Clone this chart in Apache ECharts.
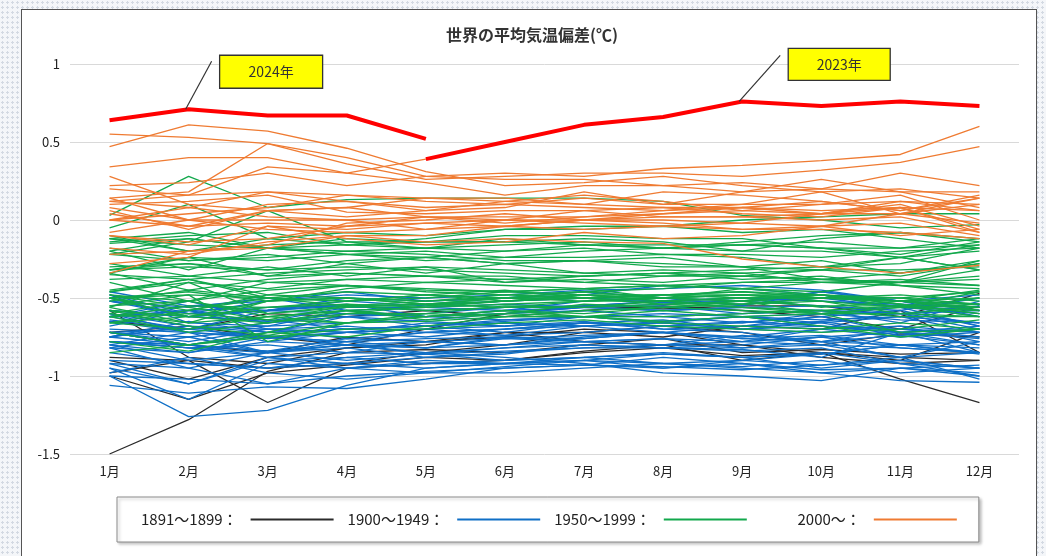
<!DOCTYPE html>
<html>
<head>
<meta charset="utf-8">
<script src="https://cdn.jsdelivr.net/npm/echarts@6/dist/echarts.min.js"></script>
<style>
html,body{margin:0;padding:0;width:1046px;height:556px;overflow:hidden;}
body{background:#f4f6f9 radial-gradient(#d3d9e2 1px, transparent 1.2px) 0 0/5px 5px;}
#frame{position:absolute;left:21px;top:9px;width:1016px;height:560px;background:#fff;border:1.5px solid #555;box-sizing:border-box;}
#chart{position:absolute;left:0;top:0;width:1046px;height:556px;}
</style>
</head>
<body>
<div id="frame"></div>
<div id="chart"></div>
<script>
const months = ['1月','2月','3月','4月','5月','6月','7月','8月','9月','10月','11月','12月'];
const titleText = '世界の平均気温偏差(℃)';
const groupNames = ['1891～1899：','1900～1949：','1950～1999：','2000～：'];
const groupColors = ['#2b2b2b','#0f6fc6','#12a84c','#ef7b32'];
const redColor = '#ff0000';

// 1891-1899
const years1891 = [
[-1.00,-1.15,-0.98,-0.93,-0.88,-0.90,-0.85,-0.82,-0.87,-0.85,-0.90,-0.72],
[-0.98,-0.90,-1.17,-0.95,-0.92,-0.90,-0.84,-0.80,-0.80,-0.88,-0.92,-0.90],
[-1.50,-1.28,-0.97,-0.85,-0.83,-0.85,-0.80,-0.76,-0.85,-0.83,-0.86,-0.85],
[-0.72,-0.80,-0.85,-0.75,-0.78,-0.72,-0.78,-0.80,-0.90,-0.85,-1.02,-1.17],
[-0.90,-1.02,-0.88,-0.82,-0.80,-0.72,-0.72,-0.68,-0.72,-0.80,-0.73,-0.75],
[-0.72,-0.68,-0.75,-0.80,-0.70,-0.60,-0.55,-0.57,-0.55,-0.55,-0.62,-0.47],
[-0.65,-0.70,-0.60,-0.62,-0.58,-0.62,-0.58,-0.55,-0.58,-0.62,-0.70,-0.55],
[-0.58,-0.88,-0.92,-0.82,-0.78,-0.75,-0.70,-0.72,-0.80,-0.85,-0.88,-0.90],
[-0.88,-0.90,-0.95,-0.92,-0.85,-0.80,-0.72,-0.75,-0.68,-0.70,-0.58,-0.85]
];

// 1900-1949
const years1900 = [
[-0.75,-0.68,-0.72,-0.70,-0.68,-0.65,-0.62,-0.65,-0.62,-0.68,-0.72,-0.70],
[-0.72,-0.78,-0.70,-0.72,-0.75,-0.70,-0.66,-0.70,-0.72,-0.78,-0.80,-0.85],
[-0.80,-0.72,-0.85,-0.82,-0.88,-0.86,-0.80,-0.82,-0.84,-0.82,-0.92,-0.95],
[-0.78,-0.82,-0.88,-0.95,-0.92,-0.90,-0.88,-0.92,-0.95,-0.98,-0.95,-1.00],
[-1.00,-1.02,-1.05,-1.00,-0.97,-0.95,-0.93,-0.94,-0.96,-0.93,-0.90,-0.95],
[-0.95,-1.05,-0.90,-0.88,-0.85,-0.82,-0.80,-0.82,-0.83,-0.88,-0.72,-0.80],
[-0.80,-0.90,-0.85,-0.78,-0.82,-0.76,-0.78,-0.76,-0.82,-0.78,-0.88,-0.78],
[-0.95,-1.15,-0.92,-0.95,-0.98,-0.94,-0.90,-0.92,-0.94,-0.90,-0.98,-0.95],
[-0.92,-0.95,-1.05,-0.95,-0.90,-0.92,-0.90,-0.95,-0.92,-0.96,-0.95,-0.98],
[-0.98,-0.88,-0.98,-1.02,-0.98,-0.98,-0.95,-0.92,-0.90,-0.93,-0.88,-1.02],
[-0.90,-0.92,-0.95,-0.92,-0.95,-0.92,-0.93,-0.88,-0.92,-0.98,-1.03,-1.04],
[-1.06,-1.11,-1.07,-1.08,-1.02,-0.95,-0.93,-0.95,-0.90,-0.86,-0.80,-0.82],
[-0.82,-0.75,-0.85,-0.80,-0.85,-0.88,-0.92,-0.98,-1.00,-1.03,-0.95,-0.93],
[-0.85,-0.92,-0.95,-0.88,-0.92,-0.92,-0.88,-0.86,-0.88,-0.86,-0.80,-0.78],
[-0.78,-0.82,-0.80,-0.85,-0.78,-0.80,-0.75,-0.72,-0.75,-0.70,-0.75,-0.72],
[-0.75,-0.65,-0.72,-0.62,-0.65,-0.68,-0.62,-0.66,-0.70,-0.72,-0.68,-0.78],
[-0.72,-0.80,-0.88,-0.85,-0.86,-0.90,-0.88,-0.85,-0.88,-0.85,-0.92,-1.00],
[-1.00,-1.26,-1.22,-1.06,-0.95,-0.92,-0.90,-0.86,-0.88,-0.95,-0.90,-0.95],
[-0.92,-1.05,-0.88,-0.92,-0.88,-0.85,-0.82,-0.82,-0.80,-0.75,-0.82,-0.85],
[-0.78,-0.82,-0.85,-0.80,-0.86,-0.82,-0.78,-0.80,-0.82,-0.80,-0.88,-0.85],
[-0.75,-0.80,-0.74,-0.80,-0.82,-0.80,-0.78,-0.76,-0.78,-0.80,-0.82,-0.85],
[-0.65,-0.72,-0.76,-0.72,-0.70,-0.68,-0.65,-0.70,-0.68,-0.65,-0.72,-0.70],
[-0.80,-0.85,-0.78,-0.80,-0.82,-0.75,-0.78,-0.80,-0.74,-0.78,-0.70,-0.75],
[-0.78,-0.80,-0.84,-0.80,-0.78,-0.76,-0.74,-0.72,-0.78,-0.70,-0.68,-0.72],
[-0.70,-0.72,-0.75,-0.78,-0.76,-0.75,-0.76,-0.72,-0.76,-0.78,-0.74,-0.80],
[-0.82,-0.85,-0.75,-0.78,-0.72,-0.74,-0.72,-0.68,-0.70,-0.65,-0.60,-0.55],
[-0.58,-0.62,-0.64,-0.70,-0.68,-0.72,-0.66,-0.68,-0.65,-0.68,-0.72,-0.76],
[-0.72,-0.70,-0.75,-0.72,-0.70,-0.74,-0.68,-0.72,-0.68,-0.62,-0.58,-0.68],
[-0.60,-0.68,-0.70,-0.68,-0.72,-0.70,-0.68,-0.66,-0.70,-0.68,-0.70,-0.72],
[-0.82,-0.95,-0.85,-0.90,-0.86,-0.84,-0.82,-0.80,-0.78,-0.75,-0.72,-0.85],
[-0.72,-0.75,-0.70,-0.72,-0.70,-0.66,-0.68,-0.65,-0.62,-0.60,-0.55,-0.62],
[-0.62,-0.70,-0.68,-0.66,-0.64,-0.60,-0.58,-0.62,-0.66,-0.60,-0.64,-0.66],
[-0.60,-0.72,-0.66,-0.62,-0.68,-0.66,-0.68,-0.66,-0.62,-0.66,-0.74,-0.70],
[-0.78,-0.80,-0.84,-0.76,-0.78,-0.80,-0.76,-0.72,-0.76,-0.74,-0.80,-0.86],
[-0.75,-0.68,-0.78,-0.72,-0.66,-0.68,-0.66,-0.64,-0.70,-0.66,-0.62,-0.66],
[-0.68,-0.58,-0.70,-0.76,-0.72,-0.70,-0.66,-0.68,-0.66,-0.62,-0.72,-0.68],
[-0.72,-0.80,-0.72,-0.70,-0.68,-0.64,-0.62,-0.62,-0.60,-0.58,-0.60,-0.58],
[-0.62,-0.58,-0.66,-0.62,-0.60,-0.56,-0.55,-0.52,-0.50,-0.52,-0.55,-0.58],
[-0.52,-0.56,-0.50,-0.58,-0.62,-0.60,-0.56,-0.54,-0.52,-0.50,-0.52,-0.62],
[-0.58,-0.62,-0.65,-0.60,-0.62,-0.58,-0.56,-0.55,-0.60,-0.58,-0.66,-0.52],
[-0.62,-0.58,-0.56,-0.55,-0.54,-0.52,-0.50,-0.53,-0.52,-0.55,-0.58,-0.50],
[-0.62,-0.55,-0.58,-0.50,-0.52,-0.50,-0.46,-0.50,-0.55,-0.46,-0.52,-0.54],
[-0.50,-0.62,-0.58,-0.52,-0.55,-0.52,-0.50,-0.52,-0.50,-0.52,-0.54,-0.56],
[-0.62,-0.52,-0.65,-0.56,-0.56,-0.58,-0.52,-0.50,-0.52,-0.46,-0.52,-0.48],
[-0.46,-0.55,-0.52,-0.48,-0.50,-0.48,-0.45,-0.44,-0.42,-0.45,-0.52,-0.58],
[-0.48,-0.60,-0.52,-0.46,-0.52,-0.50,-0.48,-0.42,-0.44,-0.48,-0.56,-0.68],
[-0.52,-0.60,-0.58,-0.54,-0.62,-0.60,-0.56,-0.58,-0.56,-0.58,-0.60,-0.70],
[-0.64,-0.70,-0.58,-0.55,-0.58,-0.56,-0.55,-0.52,-0.54,-0.50,-0.56,-0.60],
[-0.48,-0.66,-0.68,-0.58,-0.56,-0.54,-0.56,-0.58,-0.56,-0.55,-0.60,-0.66],
[-0.52,-0.62,-0.58,-0.60,-0.62,-0.64,-0.62,-0.60,-0.62,-0.64,-0.62,-0.72]
];

// 1950-1999
const years1950 = [
[-0.85,-0.80,-0.72,-0.75,-0.68,-0.62,-0.62,-0.65,-0.62,-0.68,-0.75,-0.70],
[-0.78,-0.84,-0.72,-0.60,-0.55,-0.52,-0.50,-0.48,-0.46,-0.50,-0.52,-0.45],
[-0.55,-0.52,-0.60,-0.55,-0.54,-0.52,-0.50,-0.50,-0.48,-0.52,-0.60,-0.56],
[-0.48,-0.52,-0.45,-0.42,-0.45,-0.46,-0.48,-0.48,-0.46,-0.48,-0.52,-0.50],
[-0.60,-0.52,-0.62,-0.58,-0.62,-0.60,-0.62,-0.62,-0.60,-0.58,-0.55,-0.62],
[-0.58,-0.68,-0.74,-0.66,-0.65,-0.62,-0.62,-0.58,-0.62,-0.60,-0.72,-0.70],
[-0.72,-0.80,-0.75,-0.70,-0.70,-0.66,-0.64,-0.68,-0.70,-0.72,-0.70,-0.64],
[-0.62,-0.60,-0.64,-0.55,-0.52,-0.48,-0.50,-0.48,-0.50,-0.50,-0.50,-0.46],
[-0.35,-0.38,-0.50,-0.52,-0.48,-0.52,-0.48,-0.52,-0.54,-0.50,-0.48,-0.52],
[-0.50,-0.58,-0.48,-0.50,-0.52,-0.50,-0.48,-0.50,-0.52,-0.55,-0.55,-0.56],
[-0.55,-0.48,-0.78,-0.66,-0.60,-0.55,-0.56,-0.52,-0.50,-0.48,-0.56,-0.50],
[-0.52,-0.45,-0.50,-0.46,-0.48,-0.45,-0.50,-0.48,-0.48,-0.50,-0.52,-0.56],
[-0.50,-0.46,-0.52,-0.50,-0.54,-0.50,-0.52,-0.50,-0.48,-0.48,-0.50,-0.54],
[-0.56,-0.40,-0.60,-0.56,-0.54,-0.50,-0.46,-0.44,-0.40,-0.40,-0.42,-0.48],
[-0.48,-0.56,-0.64,-0.66,-0.62,-0.58,-0.62,-0.66,-0.68,-0.70,-0.66,-0.70],
[-0.60,-0.66,-0.62,-0.66,-0.62,-0.58,-0.60,-0.56,-0.54,-0.52,-0.56,-0.54],
[-0.62,-0.55,-0.56,-0.54,-0.56,-0.52,-0.48,-0.52,-0.50,-0.56,-0.52,-0.58],
[-0.56,-0.66,-0.52,-0.50,-0.54,-0.56,-0.52,-0.50,-0.52,-0.48,-0.52,-0.54],
[-0.66,-0.58,-0.50,-0.55,-0.58,-0.56,-0.56,-0.54,-0.52,-0.48,-0.54,-0.60],
[-0.58,-0.62,-0.52,-0.44,-0.40,-0.42,-0.44,-0.42,-0.40,-0.38,-0.40,-0.36],
[-0.45,-0.38,-0.48,-0.42,-0.46,-0.48,-0.46,-0.50,-0.48,-0.50,-0.52,-0.56],
[-0.50,-0.62,-0.66,-0.60,-0.60,-0.62,-0.58,-0.56,-0.58,-0.60,-0.56,-0.58],
[-0.66,-0.62,-0.56,-0.52,-0.50,-0.46,-0.44,-0.42,-0.44,-0.40,-0.40,-0.32],
[-0.32,-0.28,-0.36,-0.34,-0.36,-0.36,-0.40,-0.42,-0.44,-0.48,-0.54,-0.60],
[-0.66,-0.70,-0.62,-0.58,-0.56,-0.54,-0.52,-0.52,-0.56,-0.60,-0.60,-0.62],
[-0.50,-0.48,-0.50,-0.52,-0.48,-0.50,-0.50,-0.54,-0.56,-0.58,-0.62,-0.62],
[-0.62,-0.72,-0.66,-0.58,-0.64,-0.60,-0.54,-0.56,-0.52,-0.60,-0.56,-0.46],
[-0.46,-0.38,-0.34,-0.32,-0.30,-0.32,-0.34,-0.36,-0.34,-0.40,-0.38,-0.42],
[-0.38,-0.36,-0.40,-0.42,-0.44,-0.46,-0.44,-0.50,-0.44,-0.46,-0.40,-0.42],
[-0.40,-0.52,-0.40,-0.38,-0.40,-0.38,-0.36,-0.34,-0.32,-0.30,-0.28,-0.18],
[-0.30,-0.28,-0.32,-0.26,-0.24,-0.28,-0.26,-0.30,-0.30,-0.32,-0.24,-0.32],
[-0.18,-0.26,-0.22,-0.28,-0.34,-0.28,-0.26,-0.24,-0.30,-0.38,-0.34,-0.28],
[-0.46,-0.40,-0.44,-0.38,-0.36,-0.40,-0.38,-0.40,-0.36,-0.38,-0.40,-0.26],
[-0.15,-0.12,-0.18,-0.22,-0.20,-0.24,-0.24,-0.22,-0.24,-0.30,-0.24,-0.32],
[-0.28,-0.36,-0.30,-0.36,-0.30,-0.40,-0.36,-0.34,-0.38,-0.36,-0.42,-0.44],
[-0.34,-0.45,-0.38,-0.34,-0.36,-0.38,-0.40,-0.36,-0.36,-0.38,-0.40,-0.38],
[-0.32,-0.30,-0.32,-0.30,-0.32,-0.34,-0.36,-0.34,-0.36,-0.32,-0.32,-0.30],
[-0.34,-0.24,-0.36,-0.28,-0.24,-0.20,-0.16,-0.18,-0.16,-0.18,-0.22,-0.14],
[-0.12,-0.20,-0.12,-0.16,-0.14,-0.14,-0.16,-0.16,-0.16,-0.18,-0.24,-0.20],
[-0.32,-0.24,-0.26,-0.22,-0.26,-0.24,-0.20,-0.18,-0.20,-0.20,-0.24,-0.16],
[-0.22,-0.14,0.06,-0.14,-0.14,-0.14,-0.12,-0.14,-0.20,-0.12,-0.08,-0.14],
[-0.12,-0.08,-0.18,-0.12,-0.14,-0.10,-0.10,-0.12,-0.12,-0.18,-0.18,-0.16],
[-0.12,-0.16,-0.18,-0.22,-0.24,-0.28,-0.34,-0.32,-0.34,-0.32,-0.36,-0.28],
[-0.22,-0.26,-0.24,-0.20,-0.22,-0.26,-0.26,-0.28,-0.30,-0.26,-0.34,-0.26],
[-0.20,-0.32,-0.18,-0.16,-0.18,-0.12,-0.16,-0.18,-0.14,-0.10,-0.08,-0.12],
[-0.05,0.10,-0.12,-0.08,-0.10,-0.06,-0.06,-0.04,-0.08,-0.06,-0.12,-0.18],
[-0.20,-0.12,-0.18,-0.20,-0.18,-0.20,-0.18,-0.22,-0.22,-0.24,-0.20,-0.18],
[-0.14,-0.10,-0.08,-0.16,-0.12,-0.06,-0.04,-0.04,0.00,0.02,0.04,0.04],
[0.03,0.28,0.08,0.13,0.14,0.14,0.14,0.12,0.03,0.00,-0.05,-0.03],
[-0.10,-0.20,-0.16,-0.14,-0.18,-0.16,-0.14,-0.18,-0.16,-0.14,-0.18,-0.12]
];

// 2000-2023 (2023 only Jan-May in this colour)
const years2000 = [
[-0.34,-0.20,-0.18,-0.10,-0.14,-0.12,-0.14,-0.15,-0.25,-0.30,-0.34,-0.29],
[-0.10,-0.16,-0.04,-0.06,-0.02,-0.04,0.00,0.00,-0.02,-0.04,0.04,-0.02],
[0.10,0.12,0.16,0.05,0.04,0.06,0.06,0.02,0.02,0.00,0.02,-0.08],
[0.08,0.00,0.00,0.00,0.02,-0.02,0.02,0.06,0.08,0.12,0.06,0.14],
[0.00,0.08,0.02,0.00,-0.06,-0.04,-0.06,-0.04,-0.02,0.04,0.10,-0.04],
[0.14,0.00,0.10,0.12,0.08,0.10,0.08,0.06,0.10,0.10,0.12,0.06],
[-0.08,0.00,-0.06,-0.08,-0.06,0.00,0.00,0.02,0.02,0.04,0.04,0.10],
[0.28,0.10,0.06,0.08,0.02,0.00,-0.02,-0.04,-0.06,-0.06,-0.08,-0.12],
[-0.28,-0.24,-0.04,-0.12,-0.16,-0.14,-0.08,-0.12,-0.10,-0.04,-0.02,-0.10],
[-0.10,-0.14,-0.12,-0.04,-0.02,0.00,0.06,0.08,0.08,0.04,0.08,0.06],
[0.12,0.16,0.18,0.16,0.14,0.12,0.10,0.08,0.04,0.02,0.08,-0.06],
[-0.18,-0.22,-0.14,-0.10,-0.10,-0.04,0.00,-0.02,-0.06,-0.04,-0.10,-0.06],
[-0.22,-0.20,-0.16,-0.02,0.00,0.04,0.00,0.04,0.08,0.06,0.08,-0.08],
[0.00,-0.04,-0.02,-0.04,0.02,0.02,0.02,0.04,0.06,0.04,0.12,0.10],
[0.04,-0.04,0.06,0.08,0.14,0.14,0.10,0.18,0.16,0.12,0.06,0.16],
[0.22,0.24,0.30,0.22,0.28,0.30,0.28,0.33,0.35,0.38,0.42,0.60],
[0.47,0.61,0.57,0.46,0.31,0.22,0.24,0.28,0.22,0.18,0.20,0.14],
[0.34,0.40,0.40,0.30,0.24,0.16,0.22,0.22,0.18,0.26,0.18,0.18],
[0.00,0.04,0.08,0.16,0.12,0.10,0.14,0.10,0.10,0.18,0.04,0.14],
[0.14,0.18,0.49,0.36,0.26,0.28,0.30,0.30,0.28,0.32,0.37,0.47],
[0.55,0.53,0.49,0.40,0.28,0.26,0.26,0.22,0.24,0.20,0.30,0.22],
[0.06,-0.06,0.06,0.02,0.06,0.08,0.18,0.10,0.18,0.20,0.18,0.08],
[0.12,0.08,0.18,0.12,0.06,0.12,0.16,0.12,0.06,0.10,0.16,0.00],
[0.20,0.16,0.34,0.30,0.39,null,null,null,null,null,null,null]
];

const red2024 = [0.64,0.71,0.67,0.67,0.52,null,null,null,null,null,null,null];
const red2023 = [null,null,null,null,0.39,0.50,0.61,0.66,0.76,0.73,0.76,0.73];

const groups = [years1891, years1900, years1950, years2000];
const series = [];
groups.forEach((rows, gi) => {
  rows.forEach(row => {
    series.push({
      type: 'line', name: groupNames[gi], data: row, color: groupColors[gi],
      symbol: 'none', silent: true, connectNulls: false,
      lineStyle: { width: 1.3, color: groupColors[gi] }
    });
  });
});
series.push({ type:'line', name:'2024年', data: red2024, color: redColor, symbol:'none', z: 5,
  lineStyle:{ width: 4, color: redColor }, silent: true });
series.push({ type:'line', name:'2023年', data: red2023, color: redColor, symbol:'none', z: 5,
  lineStyle:{ width: 4, color: redColor }, silent: true });

const chart = echarts.init(document.getElementById('chart'), null, { renderer: 'canvas' });
const FONT = '"Noto Sans CJK JP", "Noto Sans", sans-serif';
chart.setOption({
  animation: false,
  backgroundColor: 'transparent',
  textStyle: { fontFamily: FONT },
  title: {
    text: titleText, left: 527, top: 22, textAlign: 'center',
    textStyle: { fontSize: 16, fontWeight: 'bold', color: '#333', fontFamily: FONT }
  },
  grid: { left: 70, right: 27, top: 64, bottom: 102, containLabel: false },
  legend: {
    data: groupNames, left: 117, top: 497, orient: 'horizontal', align: 'right',
    icon: 'rect', itemWidth: 83, itemHeight: 2, itemGap: 14,
    padding: [15, 22, 15, 24],
    borderColor: '#8a8a8a', borderWidth: 1, backgroundColor: '#fff',
    shadowBlur: 3, shadowColor: 'rgba(0,0,0,0.25)', shadowOffsetX: 2, shadowOffsetY: 2,
    selectedMode: false,
    formatter: n => (n === '2000～：' ? '\u3000\u3000  ' + n : n),
    textStyle: { fontSize: 15, color: '#222', fontFamily: FONT, padding: [0, 8, 0, 0] }
  },
  xAxis: {
    type: 'category', data: months, boundaryGap: true,
    axisLine: { show: false }, axisTick: { show: false },
    axisLabel: { fontSize: 13, color: '#222', margin: 11, fontFamily: FONT }
  },
  yAxis: {
    type: 'value', min: -1.5, max: 1, interval: 0.5,
    axisLine: { show: false }, axisTick: { show: false },
    axisLabel: { fontSize: 13, color: '#222', margin: 10, fontFamily: FONT },
    splitLine: { lineStyle: { color: '#d9d9d9', width: 1 } }
  },
  series: series
});

function annotate(monthIdx, value, text, dxTop, dyTop, boxDx, boxDy, w, h, id) {
  const p = chart.convertToPixel({ gridIndex: 0 }, [months[monthIdx], value]);
  return [
    { type:'line', id: id+'L', shape:{ x1:p[0]-3, y1:p[1], x2:p[0]+dxTop, y2:p[1]+dyTop },
      style:{ stroke:'#333', lineWidth:1.2 }, z: 10 },
    { type:'rect', id: id+'R', shape:{ x:p[0]+boxDx, y:p[1]+boxDy, width:w, height:h },
      style:{ fill:'#ffff00', stroke:'#333', lineWidth:1.3 }, z: 10 },
    { type:'text', id: id+'T', x:p[0]+boxDx+w/2, y:p[1]+boxDy+h/2,
      style:{ text:text, fill:'#333', font:'14px ' + FONT, align:'center', verticalAlign:'middle' }, z: 11 }
  ];
}
chart.setOption({
  graphic: [].concat(
    annotate(1, red2024[1], '2024年', 23, -48, 31, -54, 103, 33, 'a24'),
    annotate(8, red2023[8], '2023年', 38, -46, 46, -53, 102, 32, 'a23')
  )
});
</script>
</body>
</html>
